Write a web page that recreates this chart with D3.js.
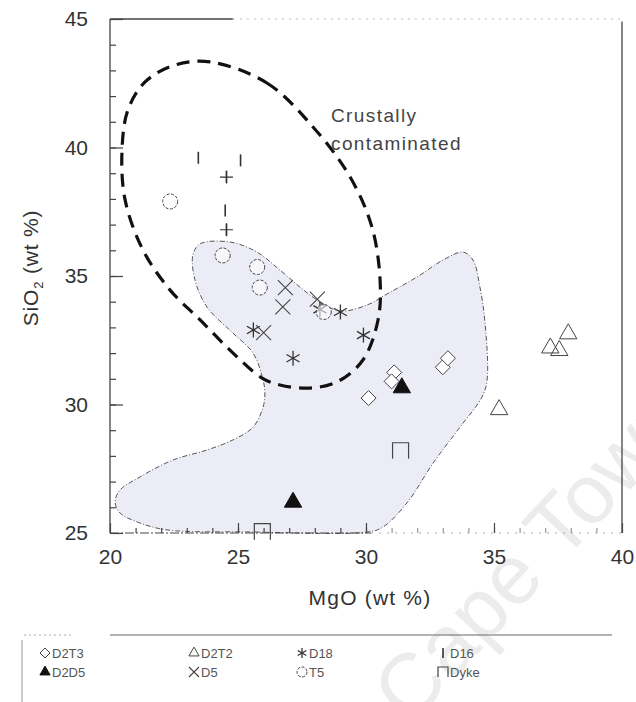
<!DOCTYPE html>
<html>
<head>
<meta charset="utf-8">
<script src="https://cdn.jsdelivr.net/npm/d3@7"></script>
<style>
  body { margin: 0; background: #fff; }
  svg { display: block; font-family: "Liberation Sans", Arial, sans-serif; }
</style>
</head>
<body>
<div id="chart"></div>
<script>
// ---- data (MgO wt %, SiO2 wt %) ----
const d2t3 = [[31.1, 31.25], [31.0, 30.9], [30.1, 30.25], [33.0, 31.45], [33.2, 31.8]];
const d2d5 = [[31.4, 30.65], [27.15, 26.2]];
const d2t2 = [[35.2, 29.8], [37.2, 32.2], [37.9, 32.75], [37.55, 32.1]];
const d18 = [[25.6, 32.9], [27.15, 31.8], [29.0, 33.6], [29.9, 32.7], [28.2, 33.7]];
const d5 = [[26.85, 34.55], [26.75, 33.8], [26.0, 32.8], [28.1, 34.1]];
const t5 = [[22.35, 37.9], [24.4, 35.8], [25.75, 35.35], [25.85, 34.55], [28.35, 33.6]];
const d16 = [[23.45, 39.6], [25.1, 39.5], [24.55, 38.85], [24.5, 37.55], [24.55, 36.8]];
const d16Cross = [[24.55, 38.85], [24.55, 36.8]];
const dyke = [[25.95, 25.05], [31.35, 28.2]];

// outline of the "Crustally contaminated" field
const crustField = [
  [23.91, 43.33], [26.13, 42.51], [27.93, 40.8], [29.38, 38.85], [30.23, 36.91],
  [30.55, 34.84], [30.47, 33.29], [29.88, 31.73], [28.87, 30.88], [27.81, 30.64],
  [26.64, 30.76], [25.94, 31.03], [24.88, 31.93], [23.52, 33.29], [22.34, 34.46],
  [21.29, 36.01], [20.59, 37.96], [20.47, 39.9], [20.7, 41.46], [21.37, 42.55], [22.54, 43.21]
];
// shaded field
const shadedField = [
  [23.24, 35.82], [23.52, 36.25], [24.69, 36.32], [25.74, 35.93], [26.64, 35.23],
  [27.42, 34.57], [28.09, 34.07], [28.98, 33.64], [30.04, 33.87], [30.82, 34.3],
  [31.99, 34.96], [33.01, 35.62], [33.79, 35.93], [34.18, 35.62], [34.45, 34.57],
  [34.65, 33.17], [34.73, 30.95], [34.53, 30.29], [33.67, 29.12], [32.62, 27.72],
  [31.6, 26.17], [30.66, 25.23], [30.08, 25.04], [25.47, 25.04], [22.23, 25.12],
  [21.17, 25.39], [20.39, 25.78], [20.2, 26.21], [20.39, 26.67], [21.17, 27.18],
  [22.46, 27.84], [23.79, 28.23], [24.8, 28.62], [25.59, 29.12], [25.98, 29.9],
  [26.05, 30.45], [25.98, 30.95], [25.59, 32.0], [24.8, 32.78], [23.79, 33.79], [23.32, 34.84]
];

const xMajor = [20, 25, 30, 35, 40];
const yMajor = [25, 30, 35, 40, 45];
const xMinor = d3.range(21, 40);
const yMinor = d3.range(26, 45);

const legendRow1 = ["D2T3", "D2T2", "D18", "D16"];
const legendRow2 = ["D2D5", "D5", "T5", "Dyke"];

// ---- layout ----
const width = 636, height = 702;
const svg = d3.select("#chart").append("svg")
  .attr("width", width).attr("height", height);

const x = d3.scaleLinear().domain([20, 40]).range([110, 622]);
const y = d3.scaleLinear().domain([25, 45]).range([533, 19]);

// watermark (runs off the page, as in the scan)
svg.append("text")
  .attr("transform", "translate(410,726) rotate(-47)")
  .attr("font-size", 84)
  .attr("fill", "#ececec")
  .text("Cape Town");

// shaded field
const fieldLine = d3.line().x(d => x(d[0])).y(d => y(d[1])).curve(d3.curveCatmullRomClosed.alpha(0.5));
svg.append("path")
  .attr("d", fieldLine(shadedField))
  .attr("fill", "#ececf6")
  .attr("stroke", "#555")
  .attr("stroke-width", 1)
  .attr("stroke-dasharray", "5,2,1,2");

// axes frame
const frame = svg.append("g").attr("stroke", "#444").attr("fill", "none");
frame.append("line").attr("x1", x(20)).attr("x2", x(20)).attr("y1", y(45)).attr("y2", y(25)).attr("stroke-width", 1.3);
frame.append("line").attr("x1", x(40)).attr("x2", x(40)).attr("y1", y(44.9)).attr("y2", y(25)).attr("stroke-width", 1.3);
frame.append("line").attr("x1", x(20)).attr("x2", x(24.8)).attr("y1", y(45)).attr("y2", y(45)).attr("stroke-width", 1.3);
frame.append("line").attr("x1", x(24.8)).attr("x2", x(40)).attr("y1", y(45)).attr("y2", y(45))
  .attr("stroke", "#bbb").attr("stroke-dasharray", "2,5");
frame.append("line").attr("x1", x(20)).attr("x2", x(30.2)).attr("y1", y(25)).attr("y2", y(25))
  .attr("stroke-width", 1.2).attr("stroke-dasharray", "9,2,2,2");
frame.append("line").attr("x1", x(30.2)).attr("x2", x(40)).attr("y1", y(25)).attr("y2", y(25))
  .attr("stroke", "#aaa").attr("stroke-dasharray", "2,6");

// ticks via d3 axes
function styleAxis(g) {
  g.select(".domain").remove();
  g.selectAll(".tick line").attr("stroke", "#444").attr("stroke-width", 1.2);
  g.selectAll(".tick text").attr("fill", "#333").attr("font-size", 21)
    .attr("font-family", "Liberation Sans, Arial, sans-serif");
}
svg.append("g").attr("transform", `translate(${x(20)},0)`)
  .call(d3.axisRight(y).tickValues(yMinor).tickSize(6).tickFormat(""))
  .call(styleAxis);
svg.append("g").attr("transform", `translate(${x(20)},0)`)
  .call(d3.axisLeft(y).tickValues(yMajor).tickSize(-13).tickPadding(22).tickFormat(d3.format("d")))
  .call(styleAxis);
svg.append("g").attr("transform", `translate(0,${y(25)})`)
  .call(d3.axisTop(x).tickValues(xMinor).tickSize(5).tickFormat(""))
  .call(styleAxis)
  .selectAll(".tick line").attr("stroke", d => d > 30 ? "#999" : "#444");
svg.append("g").attr("transform", `translate(0,${y(25)})`)
  .call(d3.axisBottom(x).tickValues(xMajor).tickSize(-10).tickPadding(16).tickFormat(d3.format("d")))
  .call(styleAxis);

// crustally contaminated dashed field
svg.append("path")
  .attr("d", fieldLine(crustField))
  .attr("fill", "none")
  .attr("stroke", "#111")
  .attr("stroke-width", 3.2)
  .attr("stroke-dasharray", "13,8");

svg.append("text").attr("x", 331).attr("y", 122).attr("font-size", 19)
  .attr("letter-spacing", 1.4).attr("fill", "#444").text("Crustally");
svg.append("text").attr("x", 331).attr("y", 150).attr("font-size", 19)
  .attr("letter-spacing", 1.4).attr("fill", "#444").text("contaminated");

// axis titles
svg.append("text").attr("x", 370).attr("y", 605).attr("text-anchor", "middle")
  .attr("font-size", 21).attr("letter-spacing", 1.2).attr("fill", "#333").text("MgO (wt %)");
const yt = svg.append("text")
  .attr("transform", `translate(38,268) rotate(-90)`)
  .attr("text-anchor", "middle").attr("font-size", 21).attr("letter-spacing", 0.8).attr("fill", "#333");
yt.append("tspan").text("SiO");
yt.append("tspan").attr("font-size", 13).attr("dy", 5).text("2");
yt.append("tspan").attr("dy", -5).text(" (wt %)");

// ---- symbols ----
const ink = "#444";
function drawSymbol(g, type, s) {
  const h = s / 2;
  if (type === "diamond") {
    g.append("path").attr("d", `M0,${-h}L${h},0L0,${h}L${-h},0Z`).attr("fill", "#fff").attr("stroke", ink);
  } else if (type === "tri" || type === "triFill") {
    const p = d3.symbol(d3.symbolTriangle, s * s * 0.45)();
    g.append("path").attr("d", p)
      .attr("fill", type === "triFill" ? "#111" : "none")
      .attr("stroke", type === "triFill" ? "#111" : ink);
  } else if (type === "star") {
    [0, 60, 120].forEach(a => {
      const r = a * Math.PI / 180;
      g.append("line").attr("x1", -h * Math.sin(r)).attr("y1", -h * Math.cos(r))
        .attr("x2", h * Math.sin(r)).attr("y2", h * Math.cos(r)).attr("stroke", "#333").attr("stroke-width", 1.3);
    });
  } else if (type === "x") {
    g.append("path").attr("d", `M${-h},${-h}L${h},${h}M${-h},${h}L${h},${-h}`).attr("stroke", ink).attr("stroke-width", 1.1);
  } else if (type === "circle") {
    g.append("circle").attr("r", h).attr("fill", "#fff").attr("fill-opacity", 0.6)
      .attr("stroke", ink).attr("stroke-dasharray", "3,1.5");
  } else if (type === "bar") {
    g.append("line").attr("y1", -h).attr("y2", h).attr("stroke", "#333").attr("stroke-width", 1.6);
  } else if (type === "plus") {
    g.append("path").attr("d", `M${-h},0L${h},0M0,${-h}L0,${h}`).attr("stroke", "#333").attr("stroke-width", 1.2);
  } else if (type === "square") {
    g.append("path").attr("d", `M${-h},${h}L${-h},${-h}L${h},${-h}L${h},${h}`)
      .attr("fill", "none").attr("stroke", ink).attr("stroke-width", 1.2);
  }
}

function plotSeries(data, type, s) {
  svg.append("g").selectAll("g").data(data).join("g")
    .attr("transform", d => `translate(${x(d[0])},${y(d[1])})`)
    .each(function () { drawSymbol(d3.select(this), type, s); });
}

plotSeries(d18, "star", 15);
plotSeries(d5, "x", 15);
plotSeries(t5, "circle", 15);
plotSeries(d2t3, "diamond", 15);
plotSeries(d2d5, "triFill", 17);
plotSeries(d2t2, "tri", 17);
plotSeries(d16, "bar", 12);
plotSeries(d16Cross, "plus", 13);
plotSeries(dyke, "square", 16);

// ---- legend ----
const lg = svg.append("g");
lg.append("line").attr("x1", 24).attr("x2", 72).attr("y1", 635).attr("y2", 635)
  .attr("stroke", "#aaa").attr("stroke-dasharray", "2,3");
lg.append("line").attr("x1", 110).attr("x2", 612).attr("y1", 635).attr("y2", 635)
  .attr("stroke", "#666");
lg.append("line").attr("x1", 22).attr("x2", 22).attr("y1", 640).attr("y2", 702)
  .attr("stroke", "#999");

const colX = [45, 194, 302, 443];
const rows = [
  { y: 653, names: legendRow1, types: ["diamond", "tri", "star", "bar"] },
  { y: 672, names: legendRow2, types: ["triFill", "x", "circle", "square"] }
];
rows.forEach(row => {
  row.names.forEach((name, i) => {
    const g = lg.append("g").attr("transform", `translate(${colX[i]},${row.y})`);
    drawSymbol(g, row.types[i], 10);
    g.append("text").attr("x", 7).attr("dy", "0.36em").attr("font-size", 13)
      .attr("fill", "#555").text(name);
  });
});
</script>
</body>
</html>
